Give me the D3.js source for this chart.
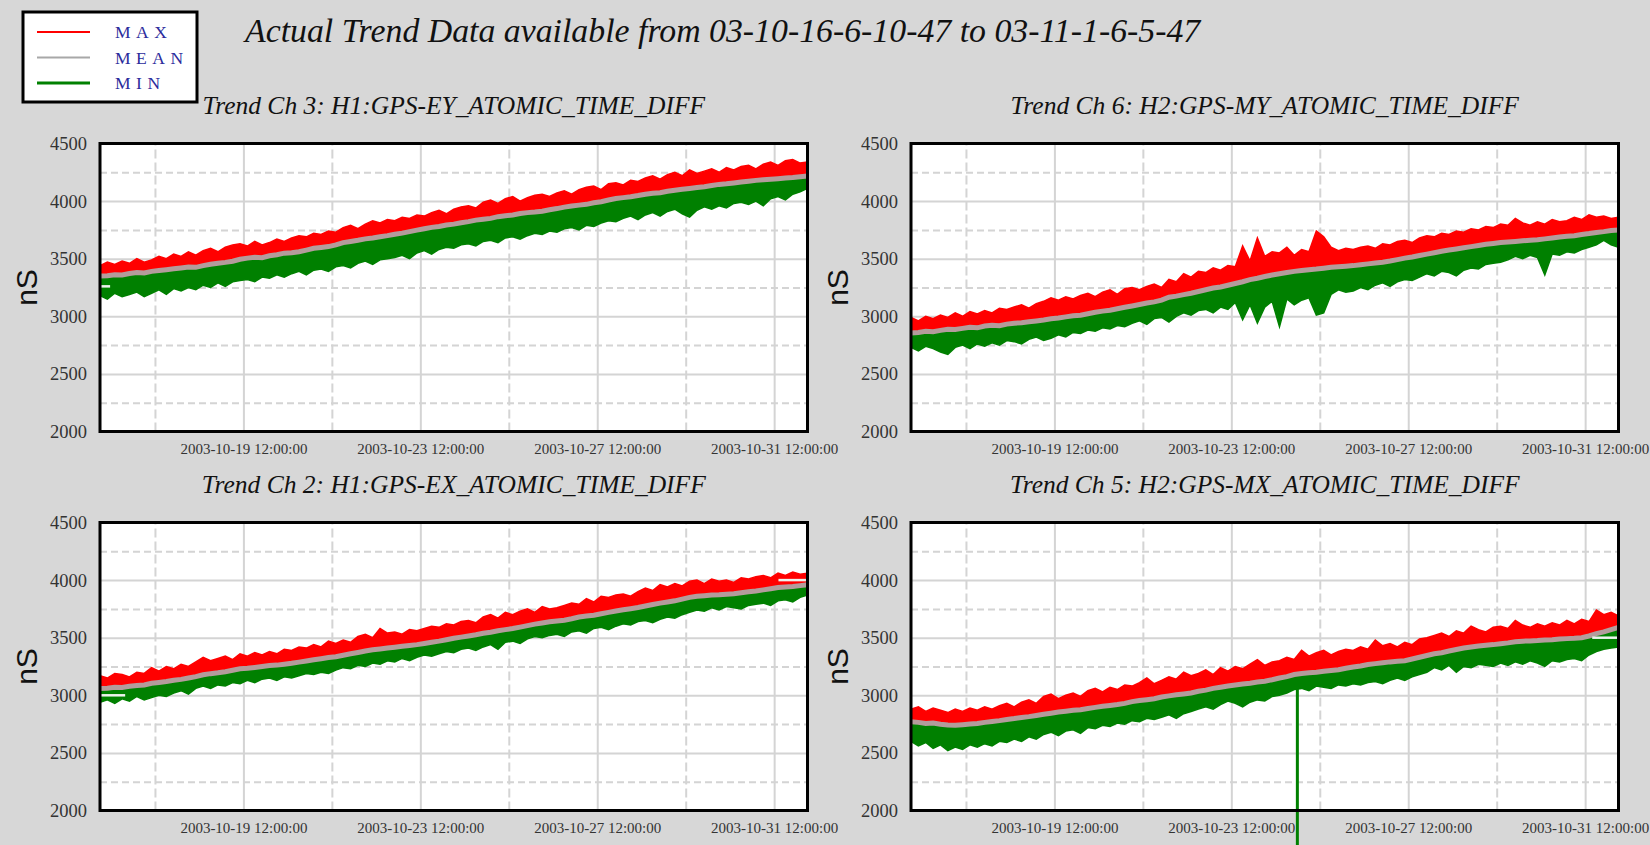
<!DOCTYPE html>
<html>
<head>
<meta charset="utf-8">
<script src="https://cdn.jsdelivr.net/npm/d3@7"></script>
<style>
	body { margin: 0; background: #d7d7d7; }
	svg { display: block; }
</style>
</head>
<body>
<svg></svg>
<script>
var width = 1650;
var height = 845;

// time range of the trend data (UTC so the DST change on 10-26 doesn't shift ticks)
var startTime = "2003-10-16 06:10:47";
var endTime = "2003-11-01 06:05:47";
var sampleCount = 97;   // one sample every ~4 hours

var majorTicks = ["2003-10-19 12:00:00", "2003-10-23 12:00:00", "2003-10-27 12:00:00", "2003-10-31 12:00:00"];
var minorTicks = ["2003-10-17 12:00:00", "2003-10-21 12:00:00", "2003-10-25 12:00:00", "2003-10-29 12:00:00"];
var yTicks = [2000, 2500, 3000, 3500, 4000, 4500];
var yMinorTicks = [2250, 2750, 3250, 3750, 4250];

var legendNames = ["MAX", "MEAN", "MIN"];
var panelTitles = [
	"Trend Ch 3: H1:GPS-EY_ATOMIC_TIME_DIFF",
	"Trend Ch 6: H2:GPS-MY_ATOMIC_TIME_DIFF",
	"Trend Ch 2: H1:GPS-EX_ATOMIC_TIME_DIFF",
	"Trend Ch 5: H2:GPS-MX_ATOMIC_TIME_DIFF"
];

// Ch 3  H1:GPS-EY
var ch3Max = [3440,3470,3450,3480,3460,3500,3470,3490,3520,3500,
	3540,3520,3560,3530,3570,3590,3560,3600,3620,3630,
	3610,3650,3620,3640,3670,3650,3680,3700,3690,3720,
	3710,3740,3730,3770,3790,3760,3800,3830,3810,3840,
	3830,3860,3850,3880,3870,3900,3920,3890,3930,3950,
	3960,3940,3990,4010,3980,4020,4040,4000,4030,4050,
	4060,4040,4070,4090,4060,4100,4120,4130,4100,4150,
	4160,4140,4180,4170,4200,4220,4190,4230,4250,4220,
	4270,4240,4260,4280,4250,4290,4270,4300,4310,4280,
	4320,4340,4310,4350,4360,4330,4340];
var ch3Mean = [3350,3352,3360,3358,3372,3380,3376,3390,3398,3405,
	3412,3420,3428,3425,3440,3452,3460,3468,3478,3495,
	3505,3512,3508,3525,3535,3548,3552,3560,3575,3590,
	3598,3605,3620,3640,3650,3660,3672,3680,3690,3700,
	3712,3722,3735,3748,3760,3772,3780,3792,3800,3812,
	3822,3835,3842,3850,3865,3872,3880,3892,3900,3905,
	3912,3925,3935,3948,3958,3965,3972,3985,3995,4010,
	4022,4030,4038,4048,4060,4068,4072,4085,4095,4102,
	4110,4118,4125,4135,4145,4150,4158,4165,4172,4180,
	4185,4190,4195,4200,4205,4212,4218];
var ch3Min = [3180,3150,3200,3170,3190,3210,3170,3200,3230,3190,
	3240,3220,3250,3230,3270,3250,3290,3260,3300,3310,
	3320,3300,3340,3330,3360,3340,3370,3390,3360,3400,
	3410,3390,3430,3440,3420,3460,3480,3450,3490,3500,
	3510,3530,3500,3550,3570,3540,3580,3600,3590,3620,
	3630,3610,3650,3660,3640,3680,3690,3670,3700,3720,
	3710,3740,3730,3760,3770,3750,3790,3780,3810,3830,
	3820,3850,3870,3840,3880,3900,3870,3910,3930,3890,
	3860,3920,3950,3930,3960,3940,3980,3990,3970,4000,
	3960,4020,4040,4010,4060,4080,4110];

// Ch 6  H2:GPS-MY
var ch6Max = [2990,2960,3000,2980,3010,2990,3030,3000,3040,3020,
	3050,3030,3070,3060,3080,3100,3070,3110,3130,3160,
	3140,3170,3150,3180,3200,3170,3210,3230,3190,3240,
	3250,3230,3260,3280,3250,3320,3300,3370,3340,3390,
	3380,3420,3400,3440,3430,3610,3480,3680,3520,3560,
	3550,3600,3530,3580,3560,3740,3690,3600,3570,3590,
	3580,3600,3610,3590,3630,3620,3650,3660,3640,3680,
	3700,3690,3720,3710,3740,3730,3760,3750,3780,3770,
	3800,3790,3850,3810,3790,3820,3800,3840,3820,3830,
	3860,3840,3880,3860,3870,3850,3860];
var ch6Mean = [2855,2860,2870,2866,2878,2888,2885,2895,2905,2900,
	2915,2922,2918,2932,2940,2945,2952,2960,2968,2978,
	2985,2995,3005,3010,3022,3035,3045,3052,3065,3078,
	3090,3102,3115,3125,3140,3165,3175,3188,3200,3215,
	3230,3245,3255,3270,3285,3300,3318,3330,3345,3358,
	3370,3380,3390,3398,3405,3410,3418,3425,3430,3435,
	3440,3448,3455,3462,3470,3480,3492,3505,3515,3528,
	3540,3552,3565,3575,3585,3595,3605,3615,3625,3632,
	3640,3645,3650,3655,3660,3665,3672,3680,3688,3694,
	3700,3710,3718,3728,3735,3745,3750];
var ch6Min = [2730,2700,2740,2720,2690,2670,2730,2750,2720,2760,
	2740,2770,2750,2790,2780,2760,2800,2820,2790,2810,
	2840,2820,2860,2850,2880,2870,2900,2890,2920,2910,
	2940,2960,2930,2980,2990,2950,3000,3030,3010,3050,
	3060,3030,3080,3060,3120,2970,3100,2940,3080,3130,
	2910,3150,3100,3140,3160,3010,3030,3190,3230,3210,
	3220,3250,3230,3270,3290,3260,3300,3320,3310,3340,
	3370,3350,3390,3380,3350,3400,3420,3410,3450,3460,
	3470,3490,3520,3500,3530,3510,3360,3540,3530,3560,
	3550,3580,3600,3620,3660,3620,3600];

// Ch 2  H1:GPS-EX
var ch2Max = [3170,3150,3190,3180,3160,3200,3190,3240,3210,3250,
	3230,3270,3250,3290,3330,3300,3320,3340,3310,3360,
	3340,3370,3350,3380,3360,3400,3390,3420,3410,3440,
	3420,3470,3450,3480,3460,3510,3530,3500,3580,3540,
	3550,3530,3570,3560,3580,3600,3590,3620,3610,3640,
	3650,3630,3680,3700,3670,3720,3700,3730,3750,3720,
	3770,3750,3760,3780,3800,3790,3840,3810,3860,3850,
	3870,3880,3860,3900,3930,3910,3960,3940,3970,3950,
	3990,4000,3970,4010,3990,4000,3980,4020,4010,4030,
	4040,4020,4060,4040,4070,4050,4060];
var ch2Mean = [3060,3062,3070,3068,3078,3085,3090,3105,3112,3120,
	3130,3138,3150,3162,3178,3188,3195,3205,3218,3230,
	3235,3242,3250,3258,3262,3270,3278,3288,3298,3308,
	3318,3328,3335,3348,3360,3372,3385,3395,3402,3410,
	3418,3425,3432,3440,3450,3460,3470,3482,3495,3505,
	3515,3525,3538,3548,3560,3570,3580,3592,3605,3618,
	3628,3638,3645,3652,3665,3680,3688,3695,3708,3720,
	3732,3742,3752,3762,3775,3788,3800,3810,3820,3835,
	3850,3860,3865,3870,3872,3878,3882,3890,3898,3905,
	3915,3925,3935,3940,3945,3952,3960];
var ch2Min = [2940,2960,2930,2970,2950,2990,2960,2980,3000,2990,
	3020,3040,3010,3060,3080,3060,3090,3080,3110,3100,
	3130,3110,3140,3150,3130,3160,3150,3170,3190,3180,
	3200,3190,3220,3240,3230,3260,3250,3280,3270,3300,
	3290,3320,3300,3330,3350,3340,3360,3380,3370,3400,
	3410,3390,3420,3440,3400,3460,3470,3450,3490,3510,
	3500,3520,3530,3510,3550,3560,3540,3580,3590,3570,
	3600,3620,3610,3640,3650,3630,3660,3680,3670,3700,
	3720,3740,3730,3760,3740,3770,3760,3750,3780,3790,
	3800,3780,3820,3830,3810,3850,3870];

// Ch 5  H2:GPS-MX
var ch5Max = [2880,2900,2860,2890,2870,2850,2880,2860,2890,2870,
	2900,2880,2910,2930,2900,2940,2960,2930,2990,3010,
	2970,3000,3020,2990,3040,3060,3030,3070,3050,3090,
	3080,3110,3150,3100,3130,3160,3140,3200,3170,3190,
	3220,3180,3240,3210,3250,3230,3270,3310,3260,3290,
	3300,3330,3310,3390,3340,3370,3390,3350,3380,3400,
	3390,3420,3400,3480,3430,3450,3420,3460,3440,3490,
	3500,3520,3540,3510,3560,3540,3600,3570,3550,3590,
	3600,3580,3650,3610,3590,3620,3600,3630,3610,3650,
	3620,3660,3640,3740,3700,3720,3690];
var ch5Mean = [2770,2765,2755,2760,2748,2742,2740,2745,2750,2755,
	2765,2772,2780,2790,2798,2808,2815,2825,2835,2845,
	2855,2862,2870,2875,2885,2895,2905,2912,2920,2930,
	2945,2955,2962,2970,2985,2995,3005,3012,3020,3035,
	3045,3060,3070,3080,3090,3098,3105,3115,3122,3135,
	3150,3162,3180,3190,3195,3200,3208,3215,3222,3235,
	3245,3255,3268,3275,3282,3290,3295,3300,3315,3330,
	3345,3360,3370,3385,3398,3410,3420,3428,3435,3440,
	3448,3455,3465,3470,3472,3475,3480,3482,3488,3492,
	3495,3500,3515,3535,3550,3570,3590];
var ch5Min = [2600,2560,2590,2540,2570,2520,2550,2530,2570,2550,
	2580,2560,2600,2590,2620,2600,2640,2620,2660,2680,
	2650,2690,2700,2670,2720,2710,2740,2730,2760,2750,
	2780,2770,2800,2790,2810,2830,2800,2840,2860,2880,
	2900,2880,2920,2950,2930,2900,2940,2960,2950,2990,
	3000,3020,3050,3060,3040,3080,3070,3060,3090,3080,
	3100,3090,3110,3120,3100,3130,3150,3130,3160,3180,
	3200,3240,3220,3260,3200,3250,3240,3270,3260,3250,
	3280,3260,3290,3270,3300,3280,3250,3300,3290,3310,
	3320,3300,3350,3380,3400,3410,3420];

// single-sample dropout of the Ch 5 minimum: [time, from, to]
var ch5Glitch = ["2003-10-24 23:50:00", 3090, 1500];

// short flat stretches (gaps) drawn light: [panel, from, to, value]
var flatStretches = [
	[0, "2003-10-16 06:10:47", "2003-10-16 11:40:00", 3260],
	[2, "2003-10-16 06:10:47", "2003-10-16 19:50:00", 3000],
	[2, "2003-10-31 14:20:00", "2003-11-01 06:05:47", 4000],
	[3, "2003-10-31 15:50:00", "2003-11-01 06:05:47", 3500]
];

var panelMax = [ch3Max, ch6Max, ch2Max, ch5Max];
var panelMean = [ch3Mean, ch6Mean, ch2Mean, ch5Mean];
var panelMin = [ch3Min, ch6Min, ch2Min, ch5Min];

// layout
var plotW = 707.5;
var plotH = 288;
var panelPos = [[100, 143.5], [911, 143.5], [100, 522.5], [911, 522.5]];
var maxColor = "#ff0000";
var meanColor = "#b49c9c";
var minColor = "#008000";
var gridColor = "#d4d4d4";

var parseTime = d3.utcParse("%Y-%m-%d %H:%M:%S");
var t0 = parseTime(startTime);
var t1 = parseTime(endTime);
var times = d3.range(sampleCount).map(i => new Date(+t0 + i * (t1 - t0) / (sampleCount - 1)));

var svg = d3.select("svg")
	.attr("width", width)
	.attr("height", height);

svg.append("rect")
	.attr("width", width)
	.attr("height", height)
	.attr("fill", "#d7d7d7");

var xScale = d3.scaleUtc()
	.domain([t0, t1])
	.range([0, plotW]);
var yScale = d3.scaleLinear()
	.domain([2000, 4500])
	.range([plotH, 0]);

function drawPanel(k) {
	var g = svg.append("g")
		.attr("transform", "translate(" + panelPos[k][0] + "," + panelPos[k][1] + ")");

	g.append("rect")
		.attr("width", plotW)
		.attr("height", plotH)
		.attr("fill", "white");

	// grid: dashed at the half steps, solid at the labelled ones
	g.append("g")
		.call(d3.axisLeft(yScale).tickValues(yMinorTicks).tickSize(-plotW).tickFormat(""))
		.call(a => a.select(".domain").remove())
		.selectAll("line")
			.attr("stroke", gridColor)
			.attr("stroke-width", 2)
			.attr("stroke-dasharray", "7,4");
	g.append("g")
		.attr("transform", "translate(0," + plotH + ")")
		.call(d3.axisBottom(xScale).tickValues(minorTicks.map(parseTime)).tickSize(-plotH).tickFormat(""))
		.call(a => a.select(".domain").remove())
		.selectAll("line")
			.attr("stroke", gridColor)
			.attr("stroke-width", 2)
			.attr("stroke-dasharray", "9,4");
	g.append("g")
		.call(d3.axisLeft(yScale).tickValues(yTicks.slice(1, -1)).tickSize(-plotW).tickFormat(""))
		.call(a => a.select(".domain").remove())
		.selectAll("line")
			.attr("stroke", gridColor)
			.attr("stroke-width", 2);
	g.append("g")
		.attr("transform", "translate(0," + plotH + ")")
		.call(d3.axisBottom(xScale).tickValues(majorTicks.map(parseTime)).tickSize(-plotH).tickFormat(""))
		.call(a => a.select(".domain").remove())
		.selectAll("line")
			.attr("stroke", gridColor)
			.attr("stroke-width", 2);

	var maxData = panelMax[k], meanData = panelMean[k], minData = panelMin[k];

	var band = d3.area()
		.x((d, i) => xScale(times[i]))
		.y0((d, i) => yScale(meanData[i]))
		.y1(d => yScale(d));
	var line = d3.line()
		.x((d, i) => xScale(times[i]))
		.y(d => yScale(d));

	g.append("path")
		.attr("d", band(maxData))
		.attr("fill", maxColor);
	g.append("path")
		.attr("d", line(maxData))
		.attr("fill", "none")
		.attr("stroke", maxColor)
		.attr("stroke-width", 1.5);
	g.append("path")
		.attr("d", band(minData))
		.attr("fill", minColor);
	g.append("path")
		.attr("d", line(minData))
		.attr("fill", "none")
		.attr("stroke", minColor)
		.attr("stroke-width", 1.5);
	g.append("path")
		.attr("d", line(meanData))
		.attr("fill", "none")
		.attr("stroke", meanColor)
		.attr("stroke-width", 5);

	flatStretches.filter(f => f[0] == k).forEach(function(f) {
		g.append("line")
			.attr("x1", xScale(parseTime(f[1])))
			.attr("x2", xScale(parseTime(f[2])))
			.attr("y1", yScale(f[3]))
			.attr("y2", yScale(f[3]))
			.attr("stroke", "#eef3ee")
			.attr("stroke-width", 2.5);
	});

	if (k == 3) {
		g.append("line")
			.attr("x1", xScale(parseTime(ch5Glitch[0])))
			.attr("x2", xScale(parseTime(ch5Glitch[0])))
			.attr("y1", yScale(ch5Glitch[1]))
			.attr("y2", yScale(ch5Glitch[2]))
			.attr("stroke", minColor)
			.attr("stroke-width", 3);
	}

	g.append("rect")
		.attr("width", plotW)
		.attr("height", plotH)
		.attr("fill", "none")
		.attr("stroke", "black")
		.attr("stroke-width", 3);

	// tick labels
	g.append("g")
		.call(d3.axisLeft(yScale).tickValues(yTicks).tickSize(0).tickPadding(13).tickFormat(d3.format("d")))
		.call(a => a.select(".domain").remove())
		.selectAll("text")
			.style("font-family", "'Liberation Serif', 'Times New Roman', serif")
			.style("font-size", "18.5px")
			.attr("fill", "#333");
	g.append("g")
		.attr("transform", "translate(0," + plotH + ")")
		.call(d3.axisBottom(xScale).tickValues(majorTicks.map(parseTime)).tickSize(0).tickPadding(12)
			.tickFormat(d3.utcFormat("%Y-%m-%d %H:%M:%S")))
		.call(a => a.select(".domain").remove())
		.selectAll("text")
			.style("font-family", "'Liberation Serif', 'Times New Roman', serif")
			.style("font-size", "15px")
			.attr("fill", "#333");

	g.append("text")
		.attr("x", plotW / 2)
		.attr("y", -30)
			.style("text-anchor", "middle")
			.style("font-family", "'Liberation Serif', 'Times New Roman', serif")
			.style("font-style", "italic")
			.style("font-size", "25.5px")
			.attr("fill", "#111")
		.text(panelTitles[k]);

	g.append("text")
		.attr("transform", "rotate(-90)")
		.attr("x", -plotH / 2)
		.attr("y", -74)
		.attr("dy", "0.35em")
			.style("text-anchor", "middle")
			.style("font-family", "'Liberation Sans', Arial, sans-serif")
			.style("font-size", "30px")
			.attr("fill", "#111")
		.text("nS");
}

d3.range(4).forEach(drawPanel);

// main title
svg.append("text")
	.attr("x", 245)
	.attr("y", 42)
		.style("font-family", "'Liberation Serif', 'Times New Roman', serif")
		.style("font-style", "italic")
		.style("font-size", "33.8px")
		.attr("fill", "#111")
	.text("Actual Trend Data available from 03-10-16-6-10-47 to 03-11-1-6-5-47");

// legend
var legend = svg.append("g");
legend.append("rect")
	.attr("x", 23)
	.attr("y", 12)
	.attr("width", 174)
	.attr("height", 90)
	.attr("fill", "white")
	.attr("stroke", "black")
	.attr("stroke-width", 3);
var legendColors = [maxColor, "#a8a8a8", minColor];
legend.selectAll(".key")
	.data(legendNames)
	.enter()
	.append("line")
		.attr("x1", 37)
		.attr("x2", 90)
		.attr("y1", (d, i) => 32 + i * 25.5)
		.attr("y2", (d, i) => 32 + i * 25.5)
		.attr("stroke", (d, i) => legendColors[i])
		.attr("stroke-width", (d, i) => i == 2 ? 3 : 2);
legend.selectAll(".name")
	.data(legendNames)
	.enter()
	.append("text")
		.attr("x", 115)
		.attr("y", (d, i) => 38 + i * 25.5)
			.style("font-family", "'Liberation Serif', 'Times New Roman', serif")
			.style("font-size", "17.5px")
			.style("letter-spacing", "5.5px")
			.attr("fill", "#2c2c9c")
		.text(d => d);
</script>
</body>
</html>
